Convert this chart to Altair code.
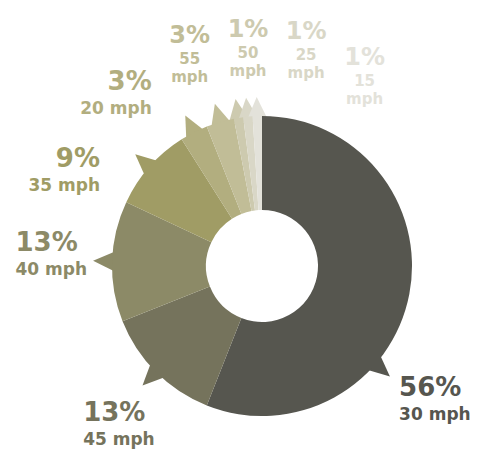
import math
import altair as alt
import pandas as pd

# ---------------- data ----------------
speeds = ["30 mph", "45 mph", "40 mph", "35 mph", "20 mph", "55 mph", "50 mph", "25 mph", "15 mph"]
shares = [56, 13, 13, 9, 3, 3, 1, 1, 1]
colors = ["#56564f", "#75735c", "#8c8a67", "#a09c65", "#b2ae7f", "#c1bd97", "#cdcaaf", "#d9d7c7", "#e3e2da"]

# ---------------- layout (not data) ----------------
CX, CY = 262, 266          # donut centre in pixels
R_IN, R_OUT = 56, 150
label_angle = [133.5, 229, 273.5, 301.5, 328, 342, 356.5, 11, 27]   # deg, clockwise from top
label_radius = [189, 237, 247, 190, 208, 234, 229, 231, 226]
label_align = ["left", "left", "left", "right", "right", "center", "center", "center", "center"]
wrapped = [False, False, False, False, False, True, True, True, True]
pointer_shift = [30, 0, 0, 0, 0, 0, 0, 0, 0]                          # deg

df = pd.DataFrame({
    "speed": speeds,
    "share": shares,
    "order": list(range(len(speeds))),
    "la": label_angle,
    "lr": label_radius,
    "align": label_align,
    "pshift": pointer_shift,
    "pct": [f"{s}%" for s in shares],
    "mph": [s.replace(" ", "\n") if w else s for s, w in zip(speeds, wrapped)],
})

color = alt.Color("speed:N", scale=alt.Scale(domain=speeds, range=colors), legend=None)

base = alt.Chart(df).transform_window(
    cum="sum(share)", sort=[alt.SortField("order")], frame=[None, 0]
).transform_calculate(
    start="datum.cum - datum.share",
    mid="datum.cum - datum.share / 2",
)

arcs = base.mark_arc(innerRadius=R_IN, outerRadius=R_OUT, strokeWidth=0).encode(
    theta=alt.Theta("start:Q", stack=False, scale=alt.Scale(domain=[0, 100], range=[0, 2 * math.pi])),
    theta2="cum:Q",
    color=color,
    x=alt.value(CX),
    y=alt.value(CY),
)

pointers = base.transform_calculate(
    pa="datum.mid * 3.6 + datum.pshift"
).transform_calculate(
    px=f"{CX} + 149 * sin(datum.pa * PI / 180)",
    py=f"{CY} - 149 * cos(datum.pa * PI / 180)",
).mark_point(
    shape="M -1.1 0.4 L 0 -2 L 1.1 0.4 Z", filled=True, size=400, opacity=1, strokeWidth=0
).encode(
    x=alt.X("px:Q", scale=None, axis=None),
    y=alt.Y("py:Q", scale=None, axis=None),
    angle=alt.Angle("pa:Q", scale=None),
    color=color,
)

lab = base.transform_calculate(
    lx=f"{CX} + datum.lr * sin(datum.la * PI / 180)",
    ly=f"{CY} - datum.lr * cos(datum.la * PI / 180)",
)

FONT = "DejaVu Sans"
layers = [pointers, arcs]
for al in ["left", "right", "center"]:
    sub = lab.transform_filter(alt.datum.align == al)
    top = al == "center"
    layers.append(
        sub.mark_text(align=al, baseline="alphabetic", font=FONT, fontWeight="bold",
                      fontSize=24 if top else 26).encode(
            x=alt.X("lx:Q", scale=None, axis=None),
            y=alt.Y("ly:Q", scale=None, axis=None),
            text="pct:N",
            color=color,
        )
    )
    layers.append(
        sub.mark_text(align=al, baseline="alphabetic", font=FONT, fontWeight="bold",
                      fontSize=15 if top else 17, lineBreak="\n", lineHeight=18,
                      dy=21 if top else 24).encode(
            x=alt.X("lx:Q", scale=None, axis=None),
            y=alt.Y("ly:Q", scale=None, axis=None),
            text="mph:N",
            color=color,
        )
    )

chart = alt.layer(*layers).properties(
    width=480, height=456, autosize=alt.AutoSizeParams(type="none"), padding=0
).configure(background="white").configure_view(stroke=None)

chart.save("out.html", embed_options={"renderer": "svg", "actions": False})
